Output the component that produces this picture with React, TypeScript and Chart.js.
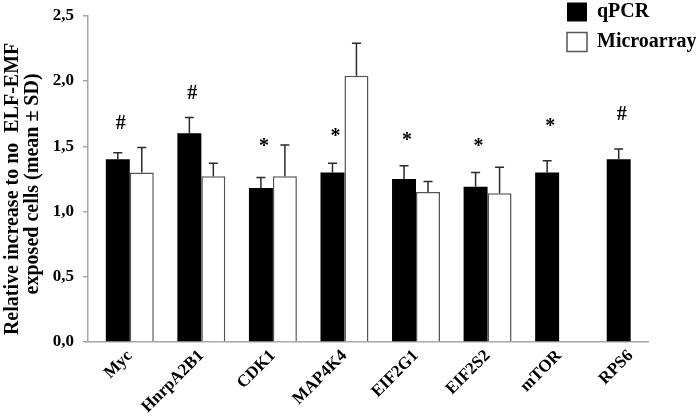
import React, { useEffect, useRef } from 'react';
import { Chart, registerables } from 'chart.js';

Chart.register(...registerables);

const categories = ['Myc', 'HnrpA2B1', 'CDK1', 'MAP4K4', 'EIF2G1', 'EIF2S2', 'mTOR', 'RPS6'];
const qpcrMean = [1.40, 1.60, 1.18, 1.30, 1.25, 1.19, 1.30, 1.40];
const qpcrSD = [0.05, 0.12, 0.08, 0.07, 0.10, 0.11, 0.09, 0.08];
const microMean: (number | null)[] = [1.30, 1.27, 1.27, 2.04, 1.15, 1.14, null, null];
const microSD: (number | null)[] = [0.19, 0.10, 0.24, 0.25, 0.08, 0.20, null, null];
const markers = ['#', '#', '*', '*', '*', '*', '*', '#'];
const markerLevel = [1.67, 1.905, 1.495, 1.57, 1.545, 1.495, 1.65, 1.744];
const yTicks = [0, 0.5, 1.0, 1.5, 2.0, 2.5];

const FONT = "'Liberation Serif', 'Times New Roman', serif";

const errorBarPlugin = {
  id: 'errorBars',
  afterDatasetsDraw(chart: any) {
    const ctx = chart.ctx;
    const y = chart.scales.y;
    const means = [qpcrMean, microMean];
    const sds = [qpcrSD, microSD];
    means.forEach((arr, d) => {
      const meta = chart.getDatasetMeta(d);
      meta.data.forEach((bar: any, i: number) => {
        const v = arr[i];
        const s = sds[d][i];
        if (v == null || s == null) return;
        const top = y.getPixelForValue(v + s);
        ctx.save();
        ctx.strokeStyle = '#2a2a2a';
        ctx.lineWidth = 1.5;
        ctx.beginPath();
        ctx.moveTo(bar.x, y.getPixelForValue(v));
        ctx.lineTo(bar.x, top);
        ctx.moveTo(bar.x - 4.5, top);
        ctx.lineTo(bar.x + 4.5, top);
        ctx.stroke();
        ctx.restore();
      });
    });
    // significance markers above qPCR bars
    const meta0 = chart.getDatasetMeta(0);
    ctx.save();
    ctx.fillStyle = '#000';
    ctx.font = `bold 20px ${FONT}`;
    ctx.textAlign = 'center';
    ctx.textBaseline = 'middle';
    meta0.data.forEach((bar: any, i: number) => {
      ctx.fillText(markers[i], bar.x + 3, y.getPixelForValue(markerLevel[i]));
    });
    ctx.restore();
  },
};

const legendPlacePlugin = {
  id: 'legendPlace',
  afterLayout(chart: any) {
    const lg = chart.legend;
    if (!lg) return;
    const w = lg.width;
    const h = lg.height;
    lg.left = 557;
    lg.right = 557 + w;
    lg.top = -8;
    lg.bottom = -8 + h;
  },
};

export default function App() {
  const ref = useRef<HTMLCanvasElement>(null);

  useEffect(() => {
    if (!ref.current) return;
    const chart = new Chart(ref.current, {
      type: 'bar',
      data: {
        datasets: [
          {
            label: 'qPCR',
            data: qpcrMean.map((v, i) => ({ x: i, y: v })),
            backgroundColor: '#000000',
            borderColor: '#000000',
            borderWidth: 0,
          },
          {
            label: 'Microarray',
            data: microMean.map((v, i) => ({ x: i, y: v })),
            backgroundColor: '#ffffff',
            borderColor: '#555555',
            borderWidth: 1.5,
          },
        ],
      },
      options: {
        animation: false,
        responsive: false,
        devicePixelRatio: 1,
        categoryPercentage: 0.67,
        barPercentage: 1.0,
        layout: { padding: { left: 0, top: 7, right: 48, bottom: 0 } },
        plugins: {
          legend: {
            position: 'chartArea',
            align: 'start',
            labels: {
              color: '#000',
              font: { family: FONT, size: 20, weight: 'bold' },
              boxWidth: 20,
              boxHeight: 19,
              padding: 10,
            },
          },
          tooltip: { enabled: false },
        },
        scales: {
          x: {
            type: 'linear',
            offset: false,
            min: -0.584,
            max: 7.242,
            afterBuildTicks: (axis: any) => {
              axis.ticks = categories.map((_, i) => ({ value: i }));
            },
            afterFit: (axis: any) => {
              axis.height = 74;
            },
            grid: { display: false, offset: false },
            border: { display: true, color: '#a6a6a6', width: 1.5 },
            ticks: {
              autoSkip: false,
              maxRotation: 45,
              minRotation: 45,
              padding: -4,
              color: '#000',
              font: { family: FONT, size: 17, weight: 'bold' },
              callback: (value: any) => categories[value] ?? '',
            },
          },
          y: {
            min: 0,
            max: 2.5,
            afterBuildTicks: (axis: any) => {
              axis.ticks = yTicks.map((v) => ({ value: v }));
            },
            afterFit: (axis: any) => {
              axis.width = 88;
            },
            grid: {
              display: true,
              drawOnChartArea: false,
              drawTicks: true,
              tickLength: 5,
              color: '#a6a6a6',
              lineWidth: 1.5,
            },
            border: { display: true, color: '#a6a6a6', width: 1.5 },
            ticks: {
              padding: 9,
              color: '#000',
              font: { family: FONT, size: 17, weight: 'bold', lineHeight: 0.8 },
              callback: (value: any) => Number(value).toFixed(1).replace('.', ','),
            },
            title: {
              display: true,
              text: ['Relative increase to no  ELF-EMF    ', 'exposed cells (mean ± SD)  '],
              color: '#000',
              font: { family: FONT, size: 20, weight: 'bold', lineHeight: 1.0 },
              padding: { top: 3, bottom: 0 },
            },
          },
        },
      } as any,
      plugins: [errorBarPlugin, legendPlacePlugin],
    });
    return () => chart.destroy();
  }, []);

  return (
    <div style={{ position: 'fixed', left: 0, top: 0, width: 696, height: 416, background: '#fff' }}>
      <canvas ref={ref} width={696} height={416} />
    </div>
  );
}
